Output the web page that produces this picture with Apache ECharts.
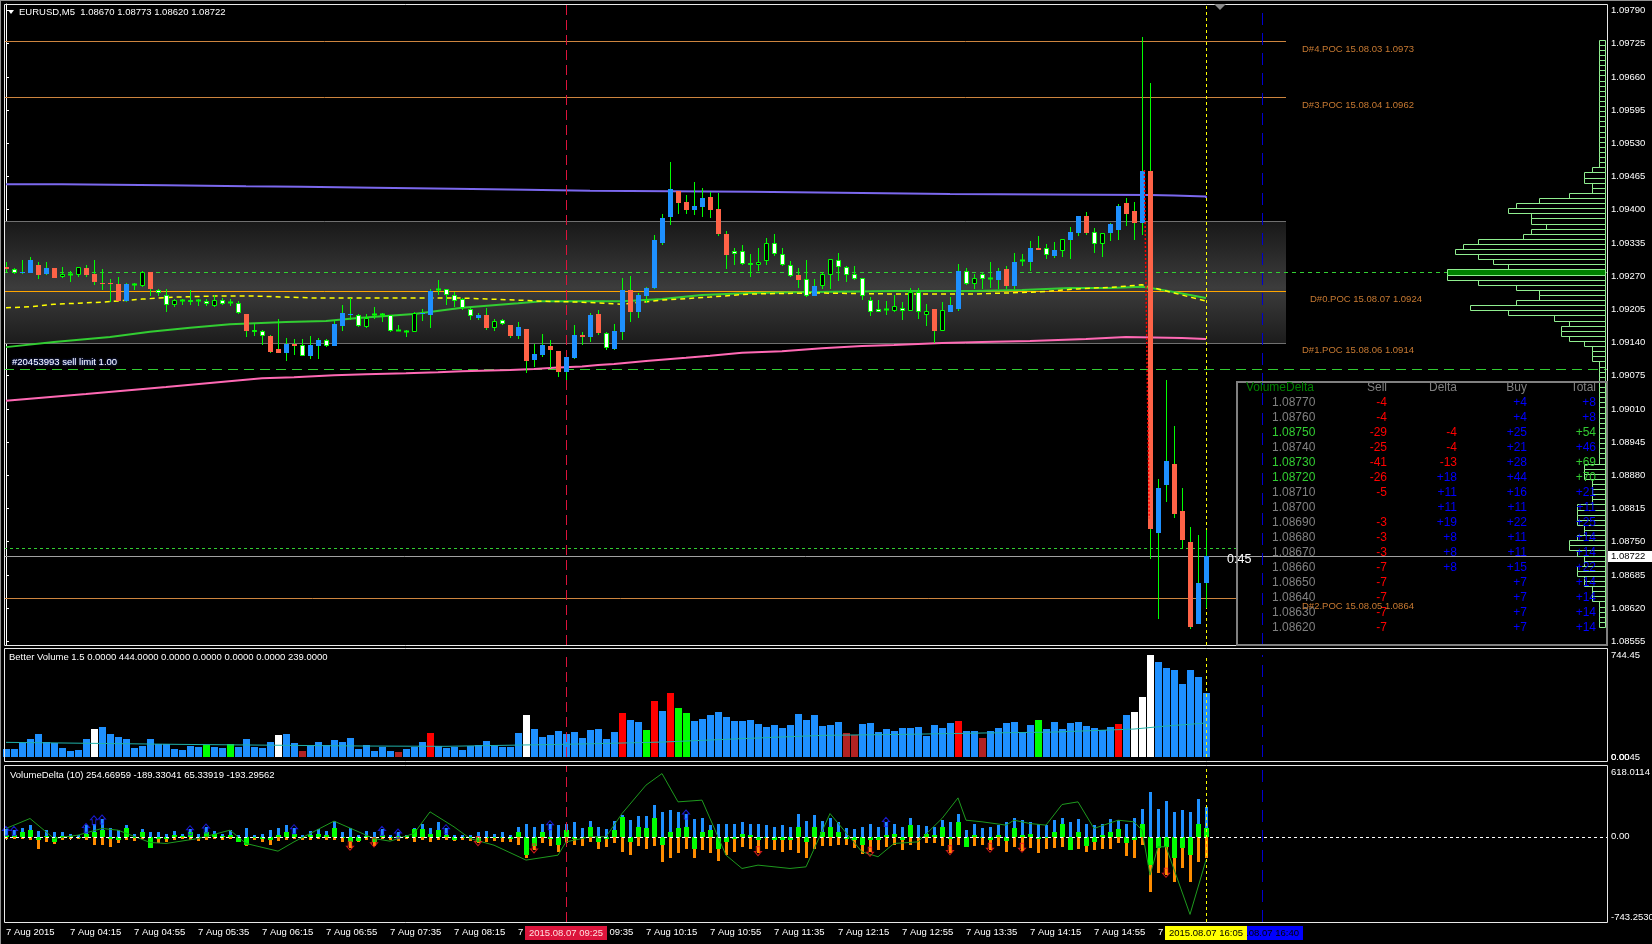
<!DOCTYPE html>
<html><head><meta charset="utf-8">
<script src="https://cdn.jsdelivr.net/npm/echarts@6/dist/echarts.min.js"></script>
<style>html,body{margin:0;padding:0;background:#000;}#c{width:1652px;height:944px;}</style>
</head><body><div id="c"></div><script>
// ---------------- DATA ----------------
const timeTickIdx = [0,8,16,24,32,40,48,56,64,72,80,88,96,104,112,120,128,136,144];
const timeTickLabels = ['7 Aug 2015','7 Aug 04:15','7 Aug 04:55','7 Aug 05:35','7 Aug 06:15','7 Aug 06:55','7 Aug 07:35','7 Aug 08:15','7 Aug 08:55','7 Aug 09:35','7 Aug 10:15','7 Aug 10:55','7 Aug 11:35','7 Aug 12:15','7 Aug 12:55','7 Aug 13:35','7 Aug 14:15','7 Aug 14:55','7 Aug 15:35'];
const priceTicks = [1.09790,1.09725,1.09660,1.09595,1.09530,1.09465,1.09400,1.09335,1.09270,1.09205,1.09140,1.09075,1.09010,1.08945,1.08880,1.08815,1.08750,1.08685,1.08620,1.08555];

const cOpen = [1.09287,1.09277,1.09277,1.09277,1.09291,1.09275,1.09285,1.09269,1.09274,1.09273,
1.09285,1.09275,1.09256,1.09256,1.09255,1.09222,1.09253,1.09251,1.09279,1.09236,
1.09214,1.09214,1.09222,1.09220,1.09222,1.09216,1.09212,1.09216,1.09218,1.09197,
1.09195,1.09161,1.09152,1.09152,1.09128,1.09120,1.09138,1.09114,1.09114,1.09134,
1.09134,1.09134,1.09173,1.09194,1.09173,1.09171,1.09195,1.09195,1.09163,1.09163,
1.09161,1.09161,1.09195,1.09193,1.09244,1.09234,1.09222,1.09208,1.09191,1.09189,
1.09193,1.09169,1.09177,1.09175,1.09152,1.09167,1.09105,1.09116,1.09134,1.09124,
1.09083,1.09110,1.09155,1.09150,1.09195,1.09130,1.09128,1.09161,1.09242,1.09200,
1.09232,1.09246,1.09334,1.09385,1.09437,1.09416,1.09400,1.09406,1.09424,1.09402,
1.09353,1.09314,1.09294,1.09291,1.09291,1.09300,1.09314,1.09291,1.09271,1.09273,
1.09232,1.09232,1.09251,1.09273,1.09287,1.09273,1.09265,1.09232,1.09200,1.09200,
1.09204,1.09202,1.09202,1.09202,1.09200,1.09193,1.09206,1.09163,1.09200,1.09206,
1.09255,1.09255,1.09265,1.09265,1.09263,1.09283,1.09251,1.09296,1.09298,1.09326,
1.09312,1.09310,1.09320,1.09341,1.09355,1.09388,1.09332,1.09332,1.09355,1.09361,
1.09414,1.09398,1.09375,1.09475,1.08768,1.08862,1.08903,1.08811,1.08750,1.08588,
1.08670];
const cClose = [1.09283,1.09283,1.09279,1.09302,1.09273,1.09285,1.09267,1.09275,1.09275,1.09287,
1.09273,1.09259,1.09255,1.09255,1.09222,1.09255,1.09254,1.09279,1.09244,1.09242,
1.09234,1.09224,1.09223,1.09224,1.09223,1.09222,1.09224,1.09224,1.09219,1.09218,
1.09163,1.09165,1.09163,1.09122,1.09120,1.09138,1.09134,1.09136,1.09136,1.09144,
1.09144,1.09177,1.09197,1.09195,1.09193,1.09189,1.09196,1.09196,1.09193,1.09165,
1.09162,1.09197,1.09197,1.09240,1.09245,1.09244,1.09234,1.09226,1.09206,1.09193,
1.09169,1.09183,1.09185,1.09152,1.09171,1.09103,1.09118,1.09136,1.09126,1.09083,
1.09112,1.09155,1.09150,1.09193,1.09159,1.09159,1.09163,1.09242,1.09200,1.09234,
1.09247,1.09340,1.09383,1.09441,1.09414,1.09400,1.09408,1.09422,1.09400,1.09353,
1.09312,1.09320,1.09320,1.09296,1.09298,1.09334,1.09334,1.09314,1.09292,1.09263,
1.09265,1.09251,1.09275,1.09304,1.09302,1.09287,1.09275,1.09267,1.09224,1.09206,
1.09205,1.09212,1.09208,1.09238,1.09238,1.09202,1.09163,1.09204,1.09214,1.09281,
1.09281,1.09267,1.09275,1.09266,1.09281,1.09251,1.09298,1.09302,1.09326,1.09322,
1.09326,1.09322,1.09343,1.09357,1.09387,1.09355,1.09357,1.09355,1.09373,1.09408,
1.09392,1.09375,1.09475,1.08774,1.08856,1.08909,1.08805,1.08754,1.08584,1.08669,
1.08722];
const cLow = [1.09279,1.09275,1.09275,1.09277,1.09265,1.09273,1.09267,1.09267,1.09259,1.09269,
1.09269,1.09253,1.09242,1.09220,1.09222,1.09220,1.09242,1.09249,1.09232,1.09232,
1.09199,1.09210,1.09214,1.09214,1.09212,1.09212,1.09210,1.09214,1.09212,1.09195,
1.09150,1.09152,1.09136,1.09120,1.09120,1.09103,1.09116,1.09114,1.09108,1.09108,
1.09132,1.09134,1.09163,1.09185,1.09171,1.09169,1.09187,1.09181,1.09161,1.09163,
1.09150,1.09161,1.09183,1.09169,1.09234,1.09214,1.09210,1.09204,1.09185,1.09185,
1.09165,1.09163,1.09175,1.09148,1.09146,1.09081,1.09093,1.09112,1.09091,1.09073,
1.09067,1.09107,1.09136,1.09142,1.09155,1.09126,1.09126,1.09144,1.09181,1.09189,
1.09218,1.09244,1.09330,1.09371,1.09392,1.09392,1.09390,1.09385,1.09383,1.09349,
1.09283,1.09291,1.09291,1.09269,1.09281,1.09292,1.09310,1.09289,1.09269,1.09247,
1.09230,1.09232,1.09244,1.09244,1.09261,1.09259,1.09263,1.09224,1.09191,1.09199,
1.09193,1.09200,1.09185,1.09202,1.09187,1.09173,1.09140,1.09163,1.09200,1.09202,
1.09253,1.09244,1.09244,1.09246,1.09244,1.09244,1.09244,1.09289,1.09281,1.09322,
1.09304,1.09306,1.09308,1.09304,1.09349,1.09351,1.09316,1.09308,1.09338,1.09341,
1.09369,1.09340,1.09351,1.08716,1.08599,1.08827,1.08797,1.08736,1.08580,1.08588,
1.08620];
const cHigh = [1.09298,1.09285,1.09302,1.09308,1.09298,1.09298,1.09285,1.09287,1.09281,1.09287,
1.09292,1.09302,1.09283,1.09265,1.09269,1.09257,1.09257,1.09281,1.09279,1.09244,
1.09244,1.09226,1.09226,1.09242,1.09226,1.09226,1.09234,1.09228,1.09226,1.09222,
1.09195,1.09177,1.09165,1.09154,1.09187,1.09148,1.09146,1.09146,1.09152,1.09148,
1.09146,1.09183,1.09214,1.09228,1.09195,1.09195,1.09210,1.09197,1.09193,1.09175,
1.09165,1.09199,1.09206,1.09244,1.09263,1.09244,1.09238,1.09228,1.09208,1.09197,
1.09208,1.09187,1.09187,1.09175,1.09181,1.09167,1.09138,1.09157,1.09144,1.09124,
1.09112,1.09175,1.09161,1.09197,1.09204,1.09161,1.09177,1.09267,1.09271,1.09236,
1.09249,1.09351,1.09392,1.09494,1.09437,1.09428,1.09455,1.09443,1.09434,1.09432,
1.09359,1.09326,1.09330,1.09314,1.09326,1.09345,1.09353,1.09326,1.09300,1.09285,
1.09302,1.09265,1.09279,1.09304,1.09316,1.09289,1.09289,1.09267,1.09230,1.09224,
1.09222,1.09234,1.09220,1.09246,1.09247,1.09216,1.09206,1.09220,1.09230,1.09294,
1.09285,1.09275,1.09277,1.09298,1.09285,1.09289,1.09316,1.09314,1.09338,1.09349,
1.09332,1.09336,1.09343,1.09367,1.09387,1.09396,1.09365,1.09355,1.09375,1.09412,
1.09422,1.09416,1.09739,1.09649,1.08872,1.09067,1.08977,1.08856,1.08778,1.08764,
1.08773];
// B blue, R red, W white body, K hollow body, G doji
const cType = ('RWBBRBRKGK'+'RRRRRBGKRW'+'WKGWGWKWGW'+'RWWRRBRWBB'+'WBBBWKGGWG'+'GKBBGWWWWB'+
  'RKWRBRBBRR'+'BBRBRWBBRB'+'BBBBRRBBRR'+'RWWWKKWWWR'+'WBKKWWWWWW'+'GKWKWKRKBB'+
  'WKWGBRBGBR'+'WBKBBRWKBB'+'RRBRBBRRRB'+'B').split('');

const volume = [58,58,105,131,168,109,105,66,44,51, 131,204,219,168,148,131,66,80,131,95,
95,58,51,80,73,88,73,66,95,73, 131,73,66,109,161,168,102,44,88,109,
88,124,109,139,58,88,44,73,44,36, 58,73,109,175,80,66,73,51,80,88,
117,80,73,73,175,307,204,146,161,190, 168,182,139,197,204,131,182,321,270,255,
197,409,336,467,358,321,263,277,307,328, 292,263,263,270,241,219,233,212,233,314,
270,307,226,234,255,175,161,241,248,182, 204,190,212,212,219,153,234,212,248,263,
190,190,139,190,212,248,255,182,234,270, 204,255,204,248,255,226,212,197,219,241,
307,328,438,744,693,650,635,533,635,584, 467];
// b blue, w white (climax), r red, g green, d dark red
const volType = ('bbbbbbbbbb'+'bwbbbbbbbb'+'bbbbbgbbgb'+'bbbbwbbdbb'+'bbbbbbbbbd'+'bbbrbbbbbb'+
  'bbbbbwbbbb'+'bbbbbbbrbb'+'grbrggbbbb'+'bbbbbbbbbb'+'bbbbbddbbb'+'bbbbbbbbbr'+
  'bbdbbbbbbg'+'bbbbbbbbbr'+'bwwwbbbbbb'+'b').split('');
const volMA = [[0,107],[22,92],[45,80],[55,78],[65,88],[72,95],[82,109],[92,134],[102,158],[112,165],[122,175],[131,182],[141,204],[145,226],[150,248]];

const vdBuy = [67,58,73,102,49,58,38,38,29,20, 102,116,154,73,58,102,29,64,38,38,
29,49,29,67,29,84,49,29,58,20, 73,20,29,58,78,102,78,15,49,67,
49,142,44,73,20,49,38,67,20,44, 20,73,116,78,125,78,20,20,20,38,
49,29,38,20,87,116,87,116,116,102, 116,131,73,137,87,67,137,189,145,183,
183,282,218,233,218,203,154,160,102,108, 116,116,131,116,108,102,87,102,87,195,
137,189,137,160,131,73,64,87,108,87, 131,108,87,160,102,93,87,145,125,195,
58,108,73,87,102,131,166,145,131,116, 102,145,160,131,154,108,102,116,154,145,
116,160,247,387,241,311,218,233,218,334, 262];
const vdSell = [-23,-15,-15,-29,-102,-44,-64,-29,-15,-23, -29,-67,-73,-87,-58,-29,-38,-15,-96,-58,
-44,-29,-15,-29,-38,-29,-15,-29,-15,-49, -78,-29,-44,-67,-38,-29,-15,-29,-29,-15,
-29,-29,-44,-96,-44,-29,-78,-15,-29,-38, -20,-44,-29,-49,-29,-29,-38,-29,-38,-58,
-44,-38,-44,-49,-67,-189,-116,-58,-78,-131, -58,-73,-78,-44,-108,-87,-58,-131,-160,-78,
-102,-78,-218,-189,-137,-108,-189,-116,-145,-212, -160,-131,-87,-102,-145,-102,-116,-131,-116,-145,
-189,-102,-78,-78,-67,-73,-96,-154,-131,-116, -87,-73,-116,-73,-116,-58,-58,-78,-145,-67,
-87,-81,-67,-116,-81,-131,-87,-125,-96,-145, -108,-96,-87,-116,-102,-131,-116,-102,-108,-58,
-166,-183,-73,-480,-320,-334,-398,-276,-392,-218, -189];
const vdDelta = [20,15,44,58,-29,10,-44,8,8,-5, 29,40,58,-15,-29,73,-8,38,-96,-20,
-15,15,10,38,-8,44,29,5,20,-44, -67,-8,-15,-29,20,38,29,-8,15,29,
15,73,-8,-44,-38,10,-44,20,-8,8, 5,67,67,29,58,20,-29,-5,-8,-44,
-8,-8,-8,-15,44,-160,-78,38,-15,-73, 58,-15,-8,87,-44,-15,58,174,-44,87,
73,160,-73,44,80,87,-102,44,60,-102, -44,-15,29,15,-29,-8,-29,-29,-29,87,
-44,87,44,87,44,-23,-29,-73,-29,-29, 20,29,-29,102,-8,29,15,87,-20,131,
-87,15,-8,-29,20,-38,73,20,29,-20, -8,44,110,-116,44,-78,-44,15,44,67,
-58,-29,116,-247,-96,-87,-189,-96,-160,116, 73];
const vdLine = [[0,73],[3,160],[6,-15],[9,15],[12,73],[14,58],[18,-49],[20,-58],[24,-15],[28,58],[30,-58],[34,-125],[36,-44],[41,137],[46,-15],[48,-38],[51,29],[53,218],[56,87],[58,-15],[61,-73],[65,-203],[69,-160],[70,-44],[73,0],[75,0],[77,203],[80,451],[82,552],[84,305],[87,320],[90,-160],[92,-276],[94,-247],[98,-276],[100,-262],[103,203],[107,-131],[109,-174],[111,-58],[114,-44],[117,160],[119,340],[120,145],[122,131],[125,102],[126,145],[128,116],[130,102],[132,282],[134,305],[136,73],[139,145],[141,131],[142,58],[143,-334],[144,-87],[145,-87],[148,-677],[150,-203]];
const vdUpArrows = [[0,52],[1,52],[10,78],[11,145],[12,151],[23,58],[25,73],[36,67],[47,52],[49,29],[55,67],[68,102],[85,195],[110,131]];
const vdDownArrows = [[43,-78],[46,-49],[59,-38],[66,-102],[94,-125],[108,-131],[118,-116],[123,-96],[127,-96],[145,-314]];

const purpleLine = [[0,1.09450],[7,1.09448],[20,1.09446],[30,1.09445],[37,1.09443],[46,1.09441],[56,1.09439],[65,1.09437],[73,1.09435],[93,1.09433],[107,1.09431],[118,1.09429],[143,1.09428],[146,1.09426],[150,1.09423]];
const pinkLine = [[0,1.09026],[10,1.09039],[20,1.09053],[32,1.09070],[36,1.09072],[41,1.09076],[45,1.09078],[50,1.09080],[54,1.09082],[57,1.09084],[63,1.09086],[66,1.09088],[69,1.09091],[72,1.09093],[74,1.09096],[76,1.09098],[80,1.09104],[85,1.09110],[88,1.09114],[92,1.09120],[97,1.09123],[102,1.09129],[107,1.09133],[111,1.09135],[117,1.09139],[122,1.09141],[128,1.09143],[135,1.09147],[140,1.09151],[147,1.09149],[150,1.09147]];
const greenMA = [[0,1.09131],[6,1.09141],[13,1.09151],[18,1.09161],[23,1.09169],[28,1.09176],[35,1.09180],[40,1.09182],[44,1.09188],[51,1.09196],[57,1.09208],[64,1.09217],[67,1.09221],[77,1.09221],[82,1.09225],[87,1.09233],[93,1.09237],[101,1.09239],[111,1.09241],[121,1.09241],[127,1.09243],[133,1.09247],[138,1.09247],[142,1.09249],[143,1.09247],[146,1.09239],[148,1.09233],[150,1.09227]];
const yellowMA = [[0,1.09208],[3,1.09210],[6,1.09215],[12,1.09219],[17,1.09225],[21,1.09229],[26,1.09231],[31,1.09231],[39,1.09227],[48,1.09227],[57,1.09227],[64,1.09223],[67,1.09221],[72,1.09219],[77,1.09215],[82,1.09223],[88,1.09229],[93,1.09235],[101,1.09237],[111,1.09235],[121,1.09235],[129,1.09239],[134,1.09245],[139,1.09249],[142,1.09253],[143,1.09249],[146,1.09237],[150,1.09221]];
const tradeLine = [[142.3,1.09478],[142.9,1.08796]];

// day volume profile, 1-pip bins from 1.0973 downward (counts)
const profileTop = 1.0973;
const profileCounts = [1,1,1,1,1,1,1,1,1,1, 1,1,1,1,1,1,1,1,1,1, 1,1,1,1,1,
 2,3,3,2,2,5,9,12,13,10, 10,8,10,11,17,19,20,17,15,13, 21,21,17,12,9,9,12,18,13,7, 5,6,6,5,3,2,2,2,1,
 1,1,1,1,1,1,1,1,1,1, 1,1,1,1,1,1,1,1,1,
 3,3,3,2,2,2,2,2,4,4, 4,4,3,3,4,5,5,4,3,3, 4,4,3,3,2,2,2,1,1,1, 1,1];
const profilePoc = 1.0928;

const pocPrices = [1.0973, 1.0962, 1.0924, 1.0914, 1.0864];
const pocLabels = ['D#4.POC 15.08.03 1.0973','D#3.POC 15.08.04 1.0962','D#0.POC 15.08.07 1.0924','D#1.POC 15.08.06 1.0914','D#2.POC 15.08.05 1.0864'];
const valueAreaHigh = 1.09378, valueAreaLow = 1.09139;
const pocLevelLine = 1.09277, sellLimitPrice = 1.09087, levelLine2 = 1.08738, bidPrice = 1.08722;

const vLineIdx = [70, 150, 157];
const vLineText = ['2015.08.07 09:25', '2015.08.07 16:05', '2015.08.07 16:40'];

const tblPrice = ['1.08770','1.08760','1.08750','1.08740','1.08730','1.08720','1.08710','1.08700','1.08690','1.08680','1.08670','1.08660','1.08650','1.08640','1.08630','1.08620'];
const tblSell = ['-4','-4','-29','-25','-41','-26','-5','','-3','-3','-3','-7','-7','-7','-7','-7'];
const tblDelta = ['','','-4','-4','-13','+18','+11','+11','+19','+8','+8','+8','','','',''];
const tblBuy = ['+4','+4','+25','+21','+28','+44','+16','+11','+22','+11','+11','+15','+7','+7','+7','+7'];
const tblTotal = ['+8','+8','+54','+46','+69','+70','+21','+11','+25','+14','+14','+22','+14','+14','+14','+14'];
const tblGreenRows = [2,4,5];

// ---------------- CHART ----------------
const FONT = '"Liberation Sans", Arial, sans-serif';
const chart = echarts.init(document.getElementById('c'), null, {renderer:'canvas'});
const XMIN = -0.25, XMAX = 200.125;
const typeIdx = {B:0, R:1, W:2, K:3, G:4};
const candleData = cOpen.map((o,i)=>[i, o, cClose[i], cLow[i], cHigh[i], typeIdx[cType[i]]]);
const volColors = {b:'#1e90ff', w:'#ffffff', r:'#ff0000', g:'#00ff00', d:'#b22222'};
const volData = volume.map((v,i)=>[i, v]);
const vdData = vdBuy.map((b,i)=>[i, b, vdSell[i], vdDelta[i]]);
const profData = profileCounts.map((c,k)=>{
  const lvl = +(profileTop - k*0.0001).toFixed(4);
  return [c, lvl, lvl === profilePoc ? 1 : 0];
});

function renderCandle(params, api) {
  const i = api.value(0);
  const o = api.coord([i, api.value(1)]), c = api.coord([i, api.value(2)]);
  const l = api.coord([i, api.value(3)]), h = api.coord([i, api.value(4)]);
  const t = api.value(5);
  const x = Math.round(o[0]);
  const top = Math.round(Math.min(o[1], c[1])), bot = Math.round(Math.max(o[1], c[1]));
  const hg = Math.max(bot - top, 1);
  const ch = [{type:'line', shape:{x1:x+0.5, y1:Math.round(h[1]), x2:x+0.5, y2:Math.round(l[1])}, style:{stroke:'#00ff00', lineWidth:1}}];
  if (t === 4) {
    ch.push({type:'line', shape:{x1:x-2, y1:top+0.5, x2:x+3, y2:top+0.5}, style:{stroke:'#00ff00', lineWidth:2}});
  } else if (t <= 1) {
    ch.push({type:'rect', shape:{x:x-2, y:top, width:5, height:hg}, style:{fill: t===0 ? '#1e90ff' : '#ff6347'}});
  } else {
    ch.push({type:'rect', shape:{x:x-1.5, y:top+0.5, width:4, height:Math.max(hg-1,1)}, style:{fill: t===2 ? '#ffffff' : '#000000', stroke:'#00ff00', lineWidth:1}});
  }
  return {type:'group', children: ch};
}
function renderVol(params, api) {
  const i = api.value(0);
  const p0 = api.coord([i, 0]), p1 = api.coord([i, api.value(1)]);
  const x = Math.round(p0[0]);
  return {type:'rect', shape:{x:x-3, y:Math.round(p1[1]), width:7, height:Math.round(p0[1])-Math.round(p1[1])},
    style:{fill: volColors[volType[i]]}};
}
function renderVD(params, api) {
  const i = api.value(0);
  const z = api.coord([i, 0]), b = api.coord([i, api.value(1)]), s = api.coord([i, api.value(2)]), d = api.coord([i, api.value(3)]);
  const x = Math.round(z[0]), zy = Math.round(z[1]);
  const r = (x0, w, y1, y2, fill) => ({type:'rect', shape:{x:x0, y:Math.min(y1,y2), width:w, height:Math.max(Math.abs(y2-y1),1)}, style:{fill}});
  return {type:'group', children:[
    r(x-1, 3, zy, Math.round(b[1]), '#1e90ff'),
    r(x-1, 3, zy, Math.round(s[1]), '#ff8c00'),
    r(x-2, 5, zy, Math.round(d[1]), '#00ff00')
  ]};
}
function renderProfile(params, api) {
  const c = api.value(0), lvl = api.value(1), poc = api.value(2);
  const a = api.coord([c, lvl + 0.00003]), b = api.coord([0, lvl - 0.00007]);
  const x1 = Math.round(a[0]) + 0.5, x2 = Math.round(b[0]) - 1.5;
  const y1 = Math.round(a[1]) + 0.5, y2 = Math.round(b[1]) + 0.5;
  return {type:'rect', shape:{x:x1, y:y1, width:x2-x1, height:y2-y1},
    style:{fill: poc ? '#008000' : 'none', stroke:'#90ee90', lineWidth:1}};
}

const vLines = [
  {xAxis: vLineIdx[0], lineStyle:{color:'#dc143c', type:[10,5], width:1}},
  {xAxis: vLineIdx[1], lineStyle:{color:'#ffff00', type:[3,3], width:1}},
  {xAxis: vLineIdx[2], lineStyle:{color:'#0000cd', type:[12,8], width:1}}
];
const seg = (x1, x2, y, style) => [{coord:[x1, y], lineStyle: style}, {coord:[x2, y]}];
const pocStyle = {color:'#cd853f', type:'solid', width:1};

const option = {
  backgroundColor:'#000000',
  animation:false,
  grid:[
    {left:4, top:4, width:1603, height:641, containLabel:false, outerBoundsMode:'none'},
    {left:4, top:655, width:1603, height:102, containLabel:false, outerBoundsMode:'none'},
    {left:4, top:766, width:1603, height:156, containLabel:false, outerBoundsMode:'none'}
  ],
  xAxis:[
    {type:'value', gridIndex:0, min:XMIN, max:XMAX, show:false},
    {type:'value', gridIndex:1, min:XMIN, max:XMAX, show:false},
    {type:'value', gridIndex:2, min:XMIN, max:XMAX, position:'bottom',
      axisLine:{show:false}, splitLine:{show:false},
      axisTick:{show:true, customValues:timeTickIdx, length:3, lineStyle:{color:'#ffffff'}},
      axisLabel:{show:true, customValues:timeTickIdx, color:'#ffffff', fontSize:9.5, fontFamily:FONT, align:'left', margin:5,
        formatter:(v)=>{ const k = timeTickIdx.indexOf(Math.round(v)); return k>=0 ? timeTickLabels[k] : ''; }}},
    {type:'value', gridIndex:0, min:0, max:211, inverse:true, show:false}
  ],
  yAxis:[
    {type:'value', gridIndex:0, min:1.085478, max:1.098028, position:'right', scale:true,
      axisLine:{show:true, lineStyle:{color:'#ffffff'}}, splitLine:{show:false},
      axisTick:{show:true, customValues:priceTicks, length:3, lineStyle:{color:'#ffffff'}},
      axisLabel:{show:true, customValues:priceTicks, color:'#ffffff', fontSize:9.5, fontFamily:FONT, margin:4, formatter:(v)=>v.toFixed(5)}},
    {type:'value', gridIndex:1, min:0, max:744.45, show:false},
    {type:'value', gridIndex:2, min:-743.253, max:618.0114, show:false}
  ],
  series:[
    {type:'scatter', name:'levels', xAxisIndex:0, yAxisIndex:0, data:[[-10, 1.09]], symbolSize:0, silent:true, z:1,
      markArea:{silent:true, z:1, itemStyle:{color:new echarts.graphic.LinearGradient(0,0,0,1,[
          {offset:0,color:'#181818'},{offset:0.55,color:'#3c3c3c'},{offset:1,color:'#1c1c1c'}])},
        data:[[{coord:[XMIN, valueAreaHigh]},{coord:[160, valueAreaLow]}]]},
      markLine:{silent:true, symbol:['none','none'], label:{show:false}, z:2,
        data:[
          seg(XMIN, 160, valueAreaHigh, {color:'#707070', type:'solid', width:1}),
          seg(XMIN, 160, valueAreaLow, {color:'#707070', type:'solid', width:1}),
          seg(XMIN, 160, pocPrices[0], pocStyle),
          seg(XMIN, 160, pocPrices[1], pocStyle),
          seg(XMIN, 160, pocPrices[2], {color:'#ffa500', type:'solid', width:1}),
          seg(XMIN, 153.9, pocPrices[4], pocStyle),
          seg(XMIN, XMAX, pocLevelLine, {color:'#32cd32', type:[4,4], width:1}),
          seg(XMIN, XMAX, sellLimitPrice, {color:'#32cd32', type:[10,6], width:1}),
          seg(XMIN, 153.9, levelLine2, {color:'#32cd32', type:[3,3], width:1}),
          seg(XMIN, XMAX, bidPrice, {color:'#a0a0a0', type:'solid', width:1})
        ]}},
    {type:'line', name:'purple', xAxisIndex:0, yAxisIndex:0, data:purpleLine, step:'end', showSymbol:false, silent:true, z:3,
      lineStyle:{color:'#7b68ee', width:2}},
    {type:'line', name:'pink', xAxisIndex:0, yAxisIndex:0, data:pinkLine, showSymbol:false, silent:true, z:3,
      lineStyle:{color:'#ff69b4', width:2}},
    {type:'line', name:'greenMA', xAxisIndex:0, yAxisIndex:0, data:greenMA, showSymbol:false, silent:true, z:3,
      lineStyle:{color:'#32cd32', width:2}},
    {type:'line', name:'yellowMA', xAxisIndex:0, yAxisIndex:0, data:yellowMA, showSymbol:false, silent:true, z:3,
      lineStyle:{color:'#ffff00', width:1.5, type:[5,4]}},
    {type:'custom', name:'candles', xAxisIndex:0, yAxisIndex:0, data:candleData, renderItem:renderCandle, z:5, silent:true,
      encode:{x:0, y:[1,2,3,4]},
      markLine:{silent:true, symbol:['none','none'], label:{show:false}, data:vLines}},
    {type:'line', name:'trade', xAxisIndex:0, yAxisIndex:0, data:tradeLine, showSymbol:false, silent:true, z:6,
      lineStyle:{color:'#ff0000', width:1.5, type:[2,2]}},
    {type:'custom', name:'profile', xAxisIndex:3, yAxisIndex:0, data:profData, renderItem:renderProfile, z:8, silent:true,
      encode:{x:0, y:1}},
    {type:'custom', name:'volume', xAxisIndex:1, yAxisIndex:1, data:volData, renderItem:renderVol, z:3, silent:true,
      encode:{x:0, y:1},
      markLine:{silent:true, symbol:['none','none'], label:{show:false}, data:vLines}},
    {type:'line', name:'volMA', xAxisIndex:1, yAxisIndex:1, data:volMA, showSymbol:false, silent:true, z:4,
      lineStyle:{color:'#20b2aa', width:1}},
    {type:'custom', name:'vd', xAxisIndex:2, yAxisIndex:2, data:vdData, renderItem:renderVD, z:3, silent:true,
      encode:{x:0, y:[1,2,3]},
      markLine:{silent:true, symbol:['none','none'], label:{show:false},
        data:[{yAxis:0, lineStyle:{color:'#ffffff', type:[3,3], width:1}}].concat(vLines)}},
    {type:'line', name:'vdLine', xAxisIndex:2, yAxisIndex:2, data:vdLine, showSymbol:false, silent:true, z:4,
      lineStyle:{color:'#1e9a1e', width:1}},
    {type:'scatter', name:'up', xAxisIndex:2, yAxisIndex:2, data:vdUpArrows, silent:true, z:5,
      symbol:'path://M4,0 L8,4 L6,4 L6,9 L2,9 L2,4 L0,4 Z', symbolSize:[7,9],
      itemStyle:{color:'rgba(0,0,0,0)', borderColor:'#2020ff', borderWidth:1}},
    {type:'scatter', name:'down', xAxisIndex:2, yAxisIndex:2, data:vdDownArrows, silent:true, z:5,
      symbol:'path://M2,0 L6,0 L6,5 L8,5 L4,9 L0,5 L2,5 Z', symbolSize:[7,9],
      itemStyle:{color:'rgba(0,0,0,0)', borderColor:'#ff2020', borderWidth:1}}
  ]
};
chart.setOption(option);

// ---------------- ANNOTATIONS ----------------
const P = (x, y) => chart.convertToPixel({xAxisIndex:0, yAxisIndex:0}, [x, y]);
const PV = (x, y) => chart.convertToPixel({xAxisIndex:1, yAxisIndex:1}, [x, y]);
const PD = (x, y) => chart.convertToPixel({xAxisIndex:2, yAxisIndex:2}, [x, y]);
const T = (text, x, y, fill, o) => {
  o = o || {};
  return {type:'text', silent:true, z:o.z || 60, style:Object.assign({text, x, y, fill, fontSize:o.size || 9.5, fontFamily:FONT,
    align:o.align || 'left', verticalAlign:'middle'}, o.extra || {})};
};
const R = (x, y, w, h, stroke, fill, z, lw) => ({type:'rect', silent:true, z:z || 40, shape:{x, y, width:w, height:h},
  style:{stroke: stroke || null, fill: fill || 'none', lineWidth: lw || 1}});
const els = [];
// frames
els.push({type:'line', silent:true, z:40, shape:{x1:0, y1:0.5, x2:1652, y2:0.5}, style:{stroke:'#909090', lineWidth:1}});
els.push({type:'line', silent:true, z:40, shape:{x1:0.5, y1:0, x2:0.5, y2:944}, style:{stroke:'#909090', lineWidth:1}});
els.push(R(4.5, 4.5, 1603, 641, '#e8e8e8'));
els.push(R(4.5, 648.5, 1603, 113, '#e8e8e8'));
els.push(R(4.5, 765.5, 1603, 157, '#e8e8e8'));
// title
els.push({type:'polygon', silent:true, z:60, shape:{points:[[8,10],[14,10],[11,14]]}, style:{fill:'#ffffff'}});
els.push(T('EURUSD,M5  1.08670 1.08773 1.08620 1.08722', 19, 12, '#ffffff'));
els.push({type:'polygon', silent:true, z:60, shape:{points:[[1214,4],[1226,4],[1220,10]]}, style:{fill:'#8a8a8a'}});
// POC labels
pocPrices.forEach((p, k) => {
  const y = P(0, p)[1];
  els.push(T(pocLabels[k], k === 2 ? 1310 : 1302, y + 8, '#c87a32', {z:62}));
});
// sell limit label
els.push(T('#20453993 sell limit 1.00', 12, P(0, sellLimitPrice)[1] - 7, '#ffffff',
  {extra:{textShadowColor:'#3050ff', textShadowBlur:2}}));
// countdown
els.push(T('0:45', 1227, P(0, bidPrice)[1] + 4, '#ffffff', {size:12.5}));
// bid price box
const by = P(0, bidPrice)[1];
els.push(R(1608, Math.round(by) - 5, 44, 11, null, '#ffffff', 65));
els.push(T(bidPrice.toFixed(5), 1611, by + 0.5, '#000000', {z:66}));
// table
els.push(R(1237, 382, 370, 263, '#808080', 'none', 55, 2));
els.push(T('VolumeDelta', 1246, 388, '#008000', {size:12, z:58}));
els.push(T('Sell', 1387, 388, '#808080', {size:12, align:'right', z:58}));
els.push(T('Delta', 1457, 388, '#808080', {size:12, align:'right', z:58}));
els.push(T('Buy', 1527, 388, '#808080', {size:12, align:'right', z:58}));
els.push(T('Total', 1596, 388, '#808080', {size:12, align:'right', z:58}));
tblPrice.forEach((p, k) => {
  const y = 403 + 15 * k;
  const green = tblGreenRows.indexOf(k) >= 0;
  els.push(T(p, 1272, y, green ? '#32cd32' : '#808080', {size:12, z:58}));
  if (tblSell[k]) els.push(T(tblSell[k], 1387, y, '#ff0000', {size:12, align:'right', z:58}));
  if (tblDelta[k]) els.push(T(tblDelta[k], 1457, y, tblDelta[k][0] === '-' ? '#ff0000' : '#0000ff', {size:12, align:'right', z:58}));
  els.push(T(tblBuy[k], 1527, y, '#0000ff', {size:12, align:'right', z:58}));
  els.push(T(tblTotal[k], 1596, y, green ? '#32cd32' : '#0000ff', {size:12, align:'right', z:58}));
});
// panel labels
els.push(T('Better Volume 1.5 0.0000 444.0000 0.0000 0.0000 0.0000 0.0000 239.0000', 9, 657, '#ffffff'));
els.push(T('VolumeDelta (10) 254.66959 -189.33041 65.33919 -193.29562', 10, 775, '#ffffff'));
// sub-window scale labels
els.push(T('744.45', 1611, PV(0, 744.45)[1], '#ffffff'));
els.push(T('0.0045', 1611, PV(0, 0)[1], '#ffffff'));
els.push(T('0.00', 1611, PV(0, 0)[1], '#ffffff'));
els.push(T('618.0114', 1611, PD(0, 618.0114)[1] + 6, '#ffffff'));
els.push(T('0.00', 1611, PD(0, 0)[1], '#ffffff'));
els.push(T('-743.2530', 1611, PD(0, -743.253)[1] - 5, '#ffffff'));
// vertical line time boxes (blue first, then yellow over it)
const boxStyle = [['#dc143c', '#ffe0e0'], ['#ffff00', '#000000'], ['#0000ff', '#000000']];
[2, 0, 1].forEach((k, order) => {
  const x = PD(vLineIdx[k], 0)[0];
  els.push(R(Math.round(x) - 41, 926, 82, 14, null, boxStyle[k][0], 70 + order * 2));
  els.push(T(vLineText[k], x, 933, boxStyle[k][1], {align:'center', z:71 + order * 2}));
});
chart.setOption({graphic:{elements: els}});
</script></body></html>
